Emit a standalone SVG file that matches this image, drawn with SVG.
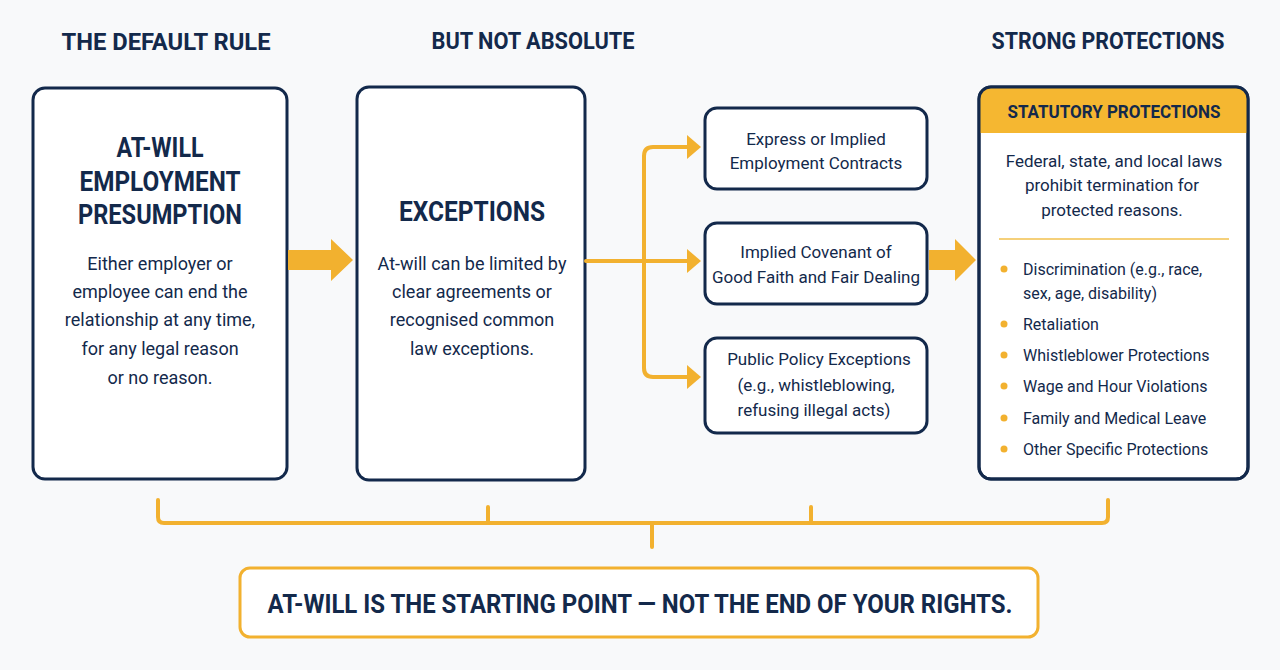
<svg xmlns="http://www.w3.org/2000/svg" width="1280" height="670" viewBox="0 0 1280 670">
<defs>
<style>
.bg{fill:#f8f9fa}
.box{fill:#ffffff;stroke:#13294b;stroke-width:3}
.head{font-family:Roboto,"Liberation Sans",sans-serif;font-weight:700;fill:#13294b;text-anchor:middle}
.body{font-family:Roboto,"Liberation Sans",sans-serif;font-weight:400;fill:#13294b;text-anchor:middle}
.list{font-family:Roboto,"Liberation Sans",sans-serif;font-weight:400;fill:#13294b;font-size:16px}
.conn{fill:none;stroke:#f2b12f;stroke-width:4;stroke-linejoin:round;stroke-linecap:round}
.blk{fill:#f2b12f}
.dot{fill:#f2b12f}
</style>
</defs>
<rect class="bg" x="0" y="0" width="1280" height="670"/>

<g id="headings">
<text class="head" x="166" y="50" font-size="24" textLength="209" lengthAdjust="spacingAndGlyphs">THE DEFAULT RULE</text>
<text class="head" x="533" y="49" font-size="24" textLength="203" lengthAdjust="spacingAndGlyphs">BUT NOT ABSOLUTE</text>
<text class="head" x="1108" y="49" font-size="24" textLength="233" lengthAdjust="spacingAndGlyphs">STRONG PROTECTIONS</text>
</g>

<g id="node-atwill">
<rect class="box" x="33" y="88" width="254" height="391" rx="12"/>
<text class="head" x="160" y="157" font-size="27" textLength="87" lengthAdjust="spacingAndGlyphs">AT-WILL</text>
<text class="head" x="160" y="191" font-size="27" textLength="161" lengthAdjust="spacingAndGlyphs">EMPLOYMENT</text>
<text class="head" x="160" y="224" font-size="27" textLength="164" lengthAdjust="spacingAndGlyphs">PRESUMPTION</text>
<text class="body" x="160" y="270" font-size="18">Either employer or</text>
<text class="body" x="160" y="298" font-size="18">employee can end the</text>
<text class="body" x="160" y="326" font-size="18">relationship at any time,</text>
<text class="body" x="160" y="355" font-size="18">for any legal reason</text>
<text class="body" x="160" y="384" font-size="18">or no reason.</text>
</g>

<g id="node-exceptions">
<rect class="box" x="357" y="87" width="228" height="393" rx="12"/>
<text class="head" x="472" y="221" font-size="27" textLength="146" lengthAdjust="spacingAndGlyphs">EXCEPTIONS</text>
<text class="body" x="472" y="270" font-size="18">At-will can be limited by</text>
<text class="body" x="472" y="298" font-size="18">clear agreements or</text>
<text class="body" x="472" y="326" font-size="18">recognised common</text>
<text class="body" x="472" y="355" font-size="18">law exceptions.</text>
</g>

<g id="node-contracts">
<rect class="box" x="705" y="108" width="222" height="81" rx="12"/>
<text class="body" x="816" y="145" font-size="17">Express or Implied</text>
<text class="body" x="816" y="169" font-size="17">Employment Contracts</text>
</g>

<g id="node-covenant">
<rect class="box" x="705" y="223" width="222" height="81" rx="12"/>
<text class="body" x="816" y="258" font-size="17">Implied Covenant of</text>
<text class="body" x="816" y="283" font-size="17">Good Faith and Fair Dealing</text>
</g>

<g id="node-public">
<rect class="box" x="705" y="338" width="222" height="95" rx="12"/>
<text class="body" x="819" y="365" font-size="17">Public Policy Exceptions</text>
<text class="body" x="816" y="391" font-size="17">(e.g., whistleblowing,</text>
<text class="body" x="814" y="416" font-size="17">refusing illegal acts)</text>
</g>

<g id="node-statutory">
<rect class="box" x="979" y="87" width="269" height="392" rx="12"/>
<path d="M979,133 L979,99 Q979,87 991,87 L1236,87 Q1248,87 1248,99 L1248,133 Z" fill="#f5b731"/>
<rect x="979" y="87" width="269" height="392" rx="12" fill="none" stroke="#13294b" stroke-width="3"/>
<text class="head" x="1114" y="118" font-size="19" textLength="213" lengthAdjust="spacingAndGlyphs">STATUTORY PROTECTIONS</text>
<text class="body" x="1114" y="167" font-size="17">Federal, state, and local laws</text>
<text class="body" x="1112" y="191" font-size="17">prohibit termination for</text>
<text class="body" x="1112" y="216" font-size="17">protected reasons.</text>
<line x1="999" y1="239" x2="1229" y2="239" stroke="#f2c14e" stroke-width="1.5"/>
<circle class="dot" cx="1004" cy="269" r="3.5"/>
<text class="list" x="1023" y="275">Discrimination (e.g., race,</text>
<text class="list" x="1023" y="299">sex, age, disability)</text>
<circle class="dot" cx="1004" cy="324" r="3.5"/>
<text class="list" x="1023" y="330">Retaliation</text>
<circle class="dot" cx="1004" cy="355" r="3.5"/>
<text class="list" x="1023" y="361">Whistleblower Protections</text>
<circle class="dot" cx="1004" cy="386" r="3.5"/>
<text class="list" x="1023" y="392">Wage and Hour Violations</text>
<circle class="dot" cx="1004" cy="418" r="3.5"/>
<text class="list" x="1023" y="424">Family and Medical Leave</text>
<circle class="dot" cx="1004" cy="449" r="3.5"/>
<text class="list" x="1023" y="455">Other Specific Protections</text>
</g>

<g id="node-conclusion">
<rect x="240" y="568" width="798" height="69" rx="10" fill="#ffffff" stroke="#f2b12f" stroke-width="3"/>
<text class="head" x="640" y="613" font-size="25" textLength="745" lengthAdjust="spacingAndGlyphs">AT-WILL IS THE STARTING POINT — NOT THE END OF YOUR RIGHTS.</text>
</g>

<g id="connectors">
<path class="blk" d="M288,250 L331,250 L331,239 L353,260 L331,281 L331,270 L288,270 Z"/>
<path class="blk" d="M929,250 L955,250 L955,239 L976,260 L955,281 L955,270 L929,270 Z"/>
<path class="conn" d="M586,261 L688,261"/>
<path class="conn" d="M688,147 L653,147 Q644,147 644,156 L644,368 Q644,377 653,377 L688,377"/>
<path class="blk" d="M687,135 L701,147 L687,159 Z"/>
<path class="blk" d="M687,249 L701,261 L687,273 Z"/>
<path class="blk" d="M687,365 L701,377 L687,389 Z"/>
<path class="conn" d="M158,500 L158,517 Q158,523 164,523 L1102,523 Q1108,523 1108,517 L1108,500"/>
<path class="conn" d="M488,507 L488,523 M811,507 L811,523 M652,523 L652,547"/>
</g>
</svg>
